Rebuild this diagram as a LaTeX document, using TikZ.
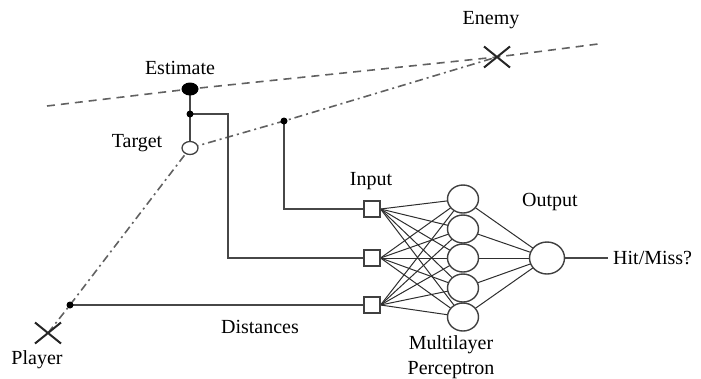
\documentclass[tikz,border=0pt]{standalone}
\usepackage{fontspec}
\setmainfont{Liberation Serif}
\usetikzlibrary{shapes.misc,shapes.geometric,backgrounds}
\begin{document}
\begin{tikzpicture}[x=1pt,y=-1pt,
 lbl/.style={font=\fontsize{20}{22}\selectfont, inner sep=0pt},
 wire/.style={draw=black!72, line width=1.6pt},
 dashline/.style={draw=black!62, line width=1.6pt, dash pattern=on 8pt off 6pt},
 dashdot/.style={draw=black!62, line width=1.6pt, dash pattern=on 8pt off 4pt on 2pt off 4pt},
 dot/.style={circle, fill=black, inner sep=0pt, minimum size=7pt},
 xmark/.style={cross out, draw=black!85, line width=2pt, minimum width=24pt, minimum height=19pt, inner sep=0pt},
 inbox/.style={rectangle, draw=black!75, fill=white, line width=1.1pt, minimum size=16pt, inner sep=0pt},
 neuron/.style={ellipse, draw=black!75, fill=white, line width=1.4pt, minimum width=31pt, minimum height=28pt, inner sep=0pt},
 link/.style={draw=black!82, line width=1pt}]
\useasboundingbox (0,0) rectangle (701,378);

% key points
\coordinate (dL) at (47,106);
\coordinate (dR) at (598,44);
\node[ellipse, fill=black, minimum width=17pt, minimum height=13pt, inner sep=0pt] (est) at (190,89) {};
\node[xmark] (enemy) at (497,57) {};
\node[xmark] (player) at (48,333) {};
\node[ellipse, draw=black!75, fill=white, line width=1.3pt, minimum width=16pt, minimum height=13pt, inner sep=0pt] (tgt) at (190,148) {};
\node[dot] (s1) at (190,114) {};
\node[dot] (td) at (284,121) {};
\node[dot] (pd) at (70,305) {};
\coordinate (k1) at (228,114);

% inputs
\node[inbox] (in1) at (372,209) {};
\node[inbox] (in2) at (372,258) {};
\node[inbox] (in3) at (372,305) {};
% hidden
\node[neuron] (h1) at (463,199) {};
\node[neuron] (h2) at (463,229) {};
\node[neuron] (h3) at (463,258) {};
\node[neuron] (h4) at (463,288) {};
\node[neuron] (h5) at (463,317) {};
% output
\node[neuron, minimum width=35pt, minimum height=32pt] (out) at (547,258) {};
\coordinate (hm) at (608,258);

% labels
\node[lbl] (lest) at (180,68) {Estimate};
\node[lbl] (lenemy) at (491,20) {Enemy};
\node[lbl] (ltgt) at (137,143) {Target};
\node[lbl] (lplayer) at (37,360) {Player};
\node[lbl] (ldist) at (260,327) {Distances};
\node[lbl] (lin) at (371,181) {Input};
\node[lbl] (lout) at (550,202) {Output};
\node[lbl, anchor=west] (lhit) at (613,258) {Hit/Miss?};
\node[lbl, align=center] (lmlp) at (451,357) {Multilayer\\[3pt]Perceptron};

\begin{scope}[on background layer]
\draw[dashline] (dL) -- (est.center) -- (enemy.center) -- (dR);
\draw[dashdot] (player.center) -- (pd.center) -- (tgt.center) -- (td.center) -- (enemy.center);
\draw[wire] (est.center) -- (tgt);
\draw[wire] (s1.center) -- (k1) |- (in2.west);
\draw[wire] (td.center) |- (in1.west);
\draw[wire] (pd.center) -- (in3.west);
\foreach \i in {1,2,3}{
  \foreach \j in {1,...,5}{
    \draw[link] (in\i.east) -- (h\j.center);
  }
}
\foreach \j in {1,...,5}{
  \draw[link] (h\j.center) -- (out.center);
}
\draw[wire] (out.center) -- (hm);
\end{scope}
\end{tikzpicture}
\end{document}
